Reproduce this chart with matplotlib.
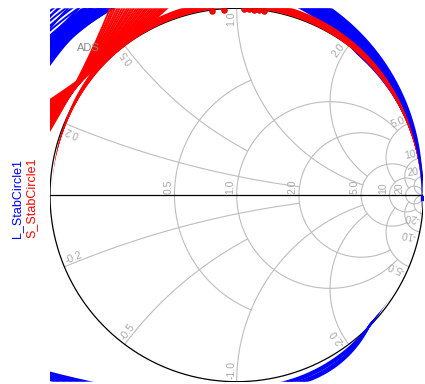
import numpy as np
import matplotlib.pyplot as plt
from matplotlib.path import Path
from matplotlib.patches import PathPatch

plt.rcParams["font.family"] = ["Liberation Sans", "DejaVu Sans"]

GRID = "#bdbdbd"
GRID_TEXT = "#a8a8a8"

# Smith chart grid: resistance circles and the |x| each one runs out to
r_grid = [0.5, 1.0, 2.0, 5.0, 10.0, 20.0]
r_grid_xmax = [1.0, 5.0, 5.0, 10.0, 20.0, np.inf]
r_grid_text = ["0.5", "1.0", "2.0", "5.0", "10", "20"]

# reactance arcs and the r each one runs out to
x_grid = [0.2, 0.5, 1.0, 2.0, 5.0, 10.0, 20.0]
x_grid_rmax = [2.0, 1.0, 5.0, 5.0, 10.0, 20.0, np.inf]
x_grid_text = ["0.2", "0.5", "1.0", "2.0", "5.0", "10", "20"]

# L_StabCircle1: centre (re, im) and radius per swept point,
# and the angular span of each circle that gets drawn (deg)
l_re = [-0.16] * 15 + [0.25] * 10 + [0.40] * 5 + [0.27] * 6 + [
    0.035, 0.062, 0.090, 0.130, 0.160, 0.185]
l_im = [0.06] * 15 + [-0.55] * 10 + [-0.30] * 5 + [3.885] * 6 + [
    -0.170, -0.224, -0.280, -0.351, -0.409, -0.446]
l_rad = [1.065, 1.071, 1.077, 1.083, 1.089, 1.095, 1.101, 1.107,
         1.113, 1.119, 1.125, 1.131, 1.137, 1.143, 1.150,
         1.80, 1.82, 1.84, 1.86, 1.88, 1.90, 1.92, 1.94, 1.96, 1.98,
         1.72, 1.76, 1.80, 1.84, 1.88,
         5.000, 5.008, 5.016, 5.024, 5.032, 5.040,
         0.860, 0.806, 0.750, 0.679, 0.621, 0.584]
l_from = [-38] * 15 + [0] * 21 + [-85] * 6
l_to = [170] * 15 + [360] * 21 + [-20] * 6
l_mark_re = [0.997]
l_mark_im = [-0.015]

# S_StabCircle1
s_re = [0.0] * 8 + [
    -3.759, -3.831, -3.902, -3.973, -4.044, -4.115, -4.186, -4.256,
    -4.326, -4.395, -4.464, -4.532, -4.599, -4.665, -4.731, -4.795,
    -4.858, -4.919, -4.980, -5.039, -5.097, -5.152, -5.207, -5.259,
    -5.310]
s_im = [0.026, 0.033, 0.040, 0.047, 0.054, 0.061, 0.068, 0.075] + [
    4.679, 4.624, 4.568, 4.509, 4.449, 4.386, 4.322, 4.256,
    4.189, 4.119, 4.048, 3.974, 3.899, 3.822, 3.744, 3.663,
    3.582, 3.498, 3.414, 3.328, 3.241, 3.153, 3.064, 2.973,
    2.882]
s_rad = [0.9814, 0.9792, 0.9771, 0.9749, 0.9729, 0.9708, 0.9689,
         0.9669] + [5.0] * 25
s_mark_re = [-0.132, -0.068, 0.039, 0.066, 0.093, 0.119, 0.146]
s_mark_im = [0.986, 0.993, 0.995, 0.994, 0.992, 0.989, 0.987]


def arc(cx, cy, rad, t0, t1, n=1440):
    t = np.radians(np.linspace(t0, t1, n))
    return cx + rad * np.cos(t), cy + rad * np.sin(t)


def gamma(z):
    return (z - 1) / (z + 1)


fig = plt.figure(figsize=(4.25, 3.84), dpi=100)
ax = fig.add_axes([50 / 425, 2.3 / 384, 373.4 / 425, 373.4 / 384])
ax.set_xlim(-1, 1)
ax.set_ylim(-1, 1)
ax.axis("off")

# resistance circles
for r, xmax, txt in zip(r_grid, r_grid_xmax, r_grid_text):
    cx, rad = r / (1 + r), 1 / (1 + r)
    if np.isinf(xmax):
        a = 0.0
    else:
        g = gamma(r + 1j * xmax)
        a = np.degrees(np.arctan2(g.imag, g.real - cx))
    xs, ys = arc(cx, 0, rad, a, 360 - a)
    ax.plot(xs, ys, color=GRID, lw=0.8, zorder=1)
    ax.text(gamma(r).real - 0.006, 0.008, txt, rotation=90,
            rotation_mode="anchor", ha="left", va="bottom",
            fontsize=7.5, color=GRID_TEXT, zorder=6)

# reactance arcs, upper and lower half
for x, rmax, txt in zip(x_grid, x_grid_rmax, x_grid_text):
    cy = rad = 1 / x
    g0 = gamma(1j * x)
    g1 = 1.0 + 0j if np.isinf(rmax) else gamma(rmax + 1j * x)
    a0 = np.degrees(np.arctan2(g0.imag - cy, g0.real - 1)) % 360
    a1 = np.degrees(np.arctan2(g1.imag - cy, g1.real - 1)) % 360
    if a1 < a0:
        a1 += 360
    xs, ys = arc(1, cy, rad, a0, a1)
    th = np.angle(g0)
    for sign, lab in ((1, txt), (-1, "-" + txt)):
        ax.plot(xs, sign * ys, color=GRID, lw=0.8, zorder=1)
        ang = np.degrees(sign * th)
        ax.text(0.985 * np.cos(sign * th), 0.985 * np.sin(sign * th), lab,
                rotation=ang % 180, rotation_mode="anchor",
                ha="right" if sign > 0 else "left", va="bottom",
                fontsize=7.5, color=GRID_TEXT, zorder=6)

xs, ys = arc(0, 0, 1, 0, 360)
ax.plot(xs, ys, color="black", lw=0.9, zorder=2)
ax.plot([-1, 1], [0, 0], color="black", lw=0.9, zorder=2)

# stability circles are only shown outside the chart face
sq = np.array([[-1, -1], [1, -1], [1, 1], [-1, 1], [-1, -1]])
th = np.linspace(0, -2 * np.pi, 361)
hole = np.column_stack([0.99 * np.cos(th), 0.99 * np.sin(th)])
codes = ([Path.MOVETO] + [Path.LINETO] * 3 + [Path.CLOSEPOLY]
         + [Path.MOVETO] + [Path.LINETO] * 359 + [Path.CLOSEPOLY])
outside = PathPatch(Path(np.vstack([sq, hole]), codes),
                    transform=ax.transData)

for cx, cy, rad, t0, t1 in zip(l_re, l_im, l_rad, l_from, l_to):
    xs, ys = arc(cx, cy, rad, t0, t1)
    line, = ax.plot(xs, ys, color="#0000ff", lw=1.4, zorder=3)
    line.set_clip_path(outside)
ax.plot(l_mark_re, l_mark_im, "s", ms=3.5, color="#0000ff", zorder=5)

for cx, cy, rad in zip(s_re, s_im, s_rad):
    xs, ys = arc(cx, cy, rad, 0, 360)
    line, = ax.plot(xs, ys, color="#ff0000", lw=1.4, zorder=4)
    line.set_clip_path(outside)
ax.plot(s_mark_re, s_mark_im, "o", ms=4, mfc="#ff0000", mec="#d00000",
        mew=0.6, zorder=5)

ax.text(-0.795, 0.785, "ADS", ha="center", va="center", fontsize=8,
        color="#8a8a8a", zorder=6)

fig.text(0.041, 0.38, "L_StabCircle1", rotation=90, color="#0000ff",
         ha="center", va="bottom", fontsize=9)
fig.text(0.074, 0.38, "S_StabCircle1", rotation=90, color="#ff0000",
         ha="center", va="bottom", fontsize=9)

fig.savefig("out.png", dpi=100, facecolor="white")
